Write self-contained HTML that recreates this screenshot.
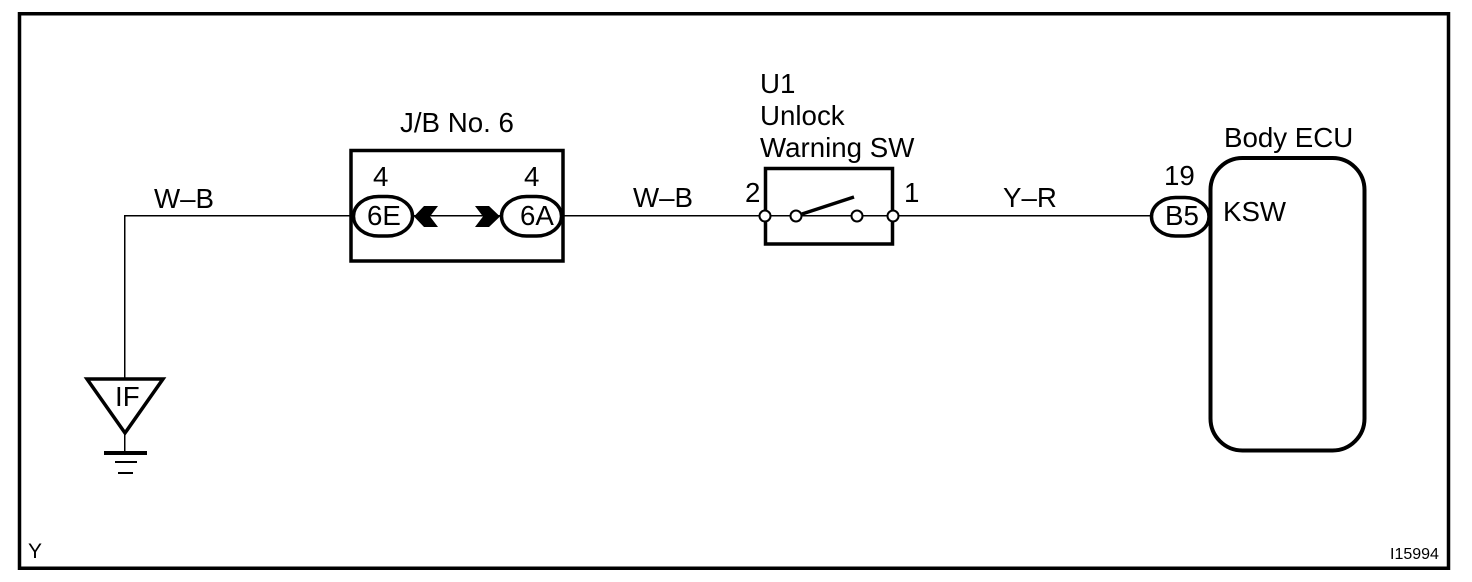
<!DOCTYPE html>
<html><head><meta charset="utf-8"><style>
html,body{margin:0;padding:0;background:#fff}
svg{display:block}
text{font-family:"Liberation Sans",Arial,sans-serif;font-size:27.700px;fill:#000}
</style></head><body>
<svg width="1472" height="582" viewBox="0 0 1472 582" xmlns="http://www.w3.org/2000/svg">
<rect x="0" y="0" width="1472" height="582" fill="#fff"/>
<rect x="19.5" y="13.750" width="1429" height="554.500" fill="none" stroke="#000" stroke-width="3.500"/>
<g fill="none" stroke="#000" stroke-width="1.500">
<path d="M124.750 378V215.750H352"/>
<path d="M413 215.750H501"/>
<path d="M562 215.750H765"/>
<path d="M765 215.750H857"/>
<path d="M857 215.750H1150"/>
<path d="M124.750 434V453"/>
</g>
<rect x="351" y="150.500" width="212" height="110.500" fill="none" stroke="#000" stroke-width="3.500"/>
<rect x="353.500" y="196.500" width="59" height="39.500" rx="25" ry="19.750" fill="#fff" stroke="#000" stroke-width="3.500"/>
<rect x="501.500" y="196.500" width="60" height="39.500" rx="25" ry="19.750" fill="#fff" stroke="#000" stroke-width="3.500"/>
<path d="M414 216.500L424 206H438L430 216.500L438 227H424Z" fill="#000"/>
<path d="M475 206H489L500 216.500L489 227H475L483 216.500Z" fill="#000"/>
<rect x="765.500" y="168.500" width="127" height="75.500" fill="none" stroke="#000" stroke-width="3.500"/>
<path d="M802 214L854 197" stroke="#000" stroke-width="3.500" fill="none"/>
<g fill="#fff" stroke="#000" stroke-width="2">
<circle cx="765" cy="216" r="5.500"/>
<circle cx="796" cy="216" r="5.500"/>
<circle cx="857" cy="216" r="5.500"/>
<circle cx="893" cy="216" r="5.500"/>
</g>
<rect x="1210.500" y="158" width="154" height="292.500" rx="32" fill="#fff" stroke="#000" stroke-width="4"/>
<rect x="1151.500" y="197.500" width="57.500" height="38.500" rx="24" ry="19.250" fill="#fff" stroke="#000" stroke-width="3.500"/>
<path d="M87 379H163L125 433Z" fill="#fff" stroke="#000" stroke-width="3.500"/>
<path d="M104 453H147" stroke="#000" stroke-width="4"/>
<path d="M115 462H137" stroke="#000" stroke-width="2"/>
<path d="M118 473H133" stroke="#000" stroke-width="2"/>
<text x="154" y="208">W–B</text>
<text x="400" y="132">J/B No. 6</text>
<text x="373" y="186">4</text>
<text x="524" y="186">4</text>
<text x="367" y="225">6E</text>
<text x="520" y="225">6A</text>
<text x="633" y="207">W–B</text>
<text x="745" y="202">2</text>
<text x="904" y="202">1</text>
<text x="760" y="93">U1</text>
<text x="760" y="125">Unlock</text>
<text x="760" y="157">Warning SW</text>
<text x="1003" y="207">Y–R</text>
<text x="1164" y="185">19</text>
<text x="1165" y="225">B5</text>
<text x="1224" y="147">Body ECU</text>
<text x="1223" y="221">KSW</text>
<text x="115" y="406">IF</text>
<text x="28" y="558" style="font-size:21px">Y</text>
<text x="1390" y="559" style="font-size:16px">I15994</text>
</svg>
</body></html>
